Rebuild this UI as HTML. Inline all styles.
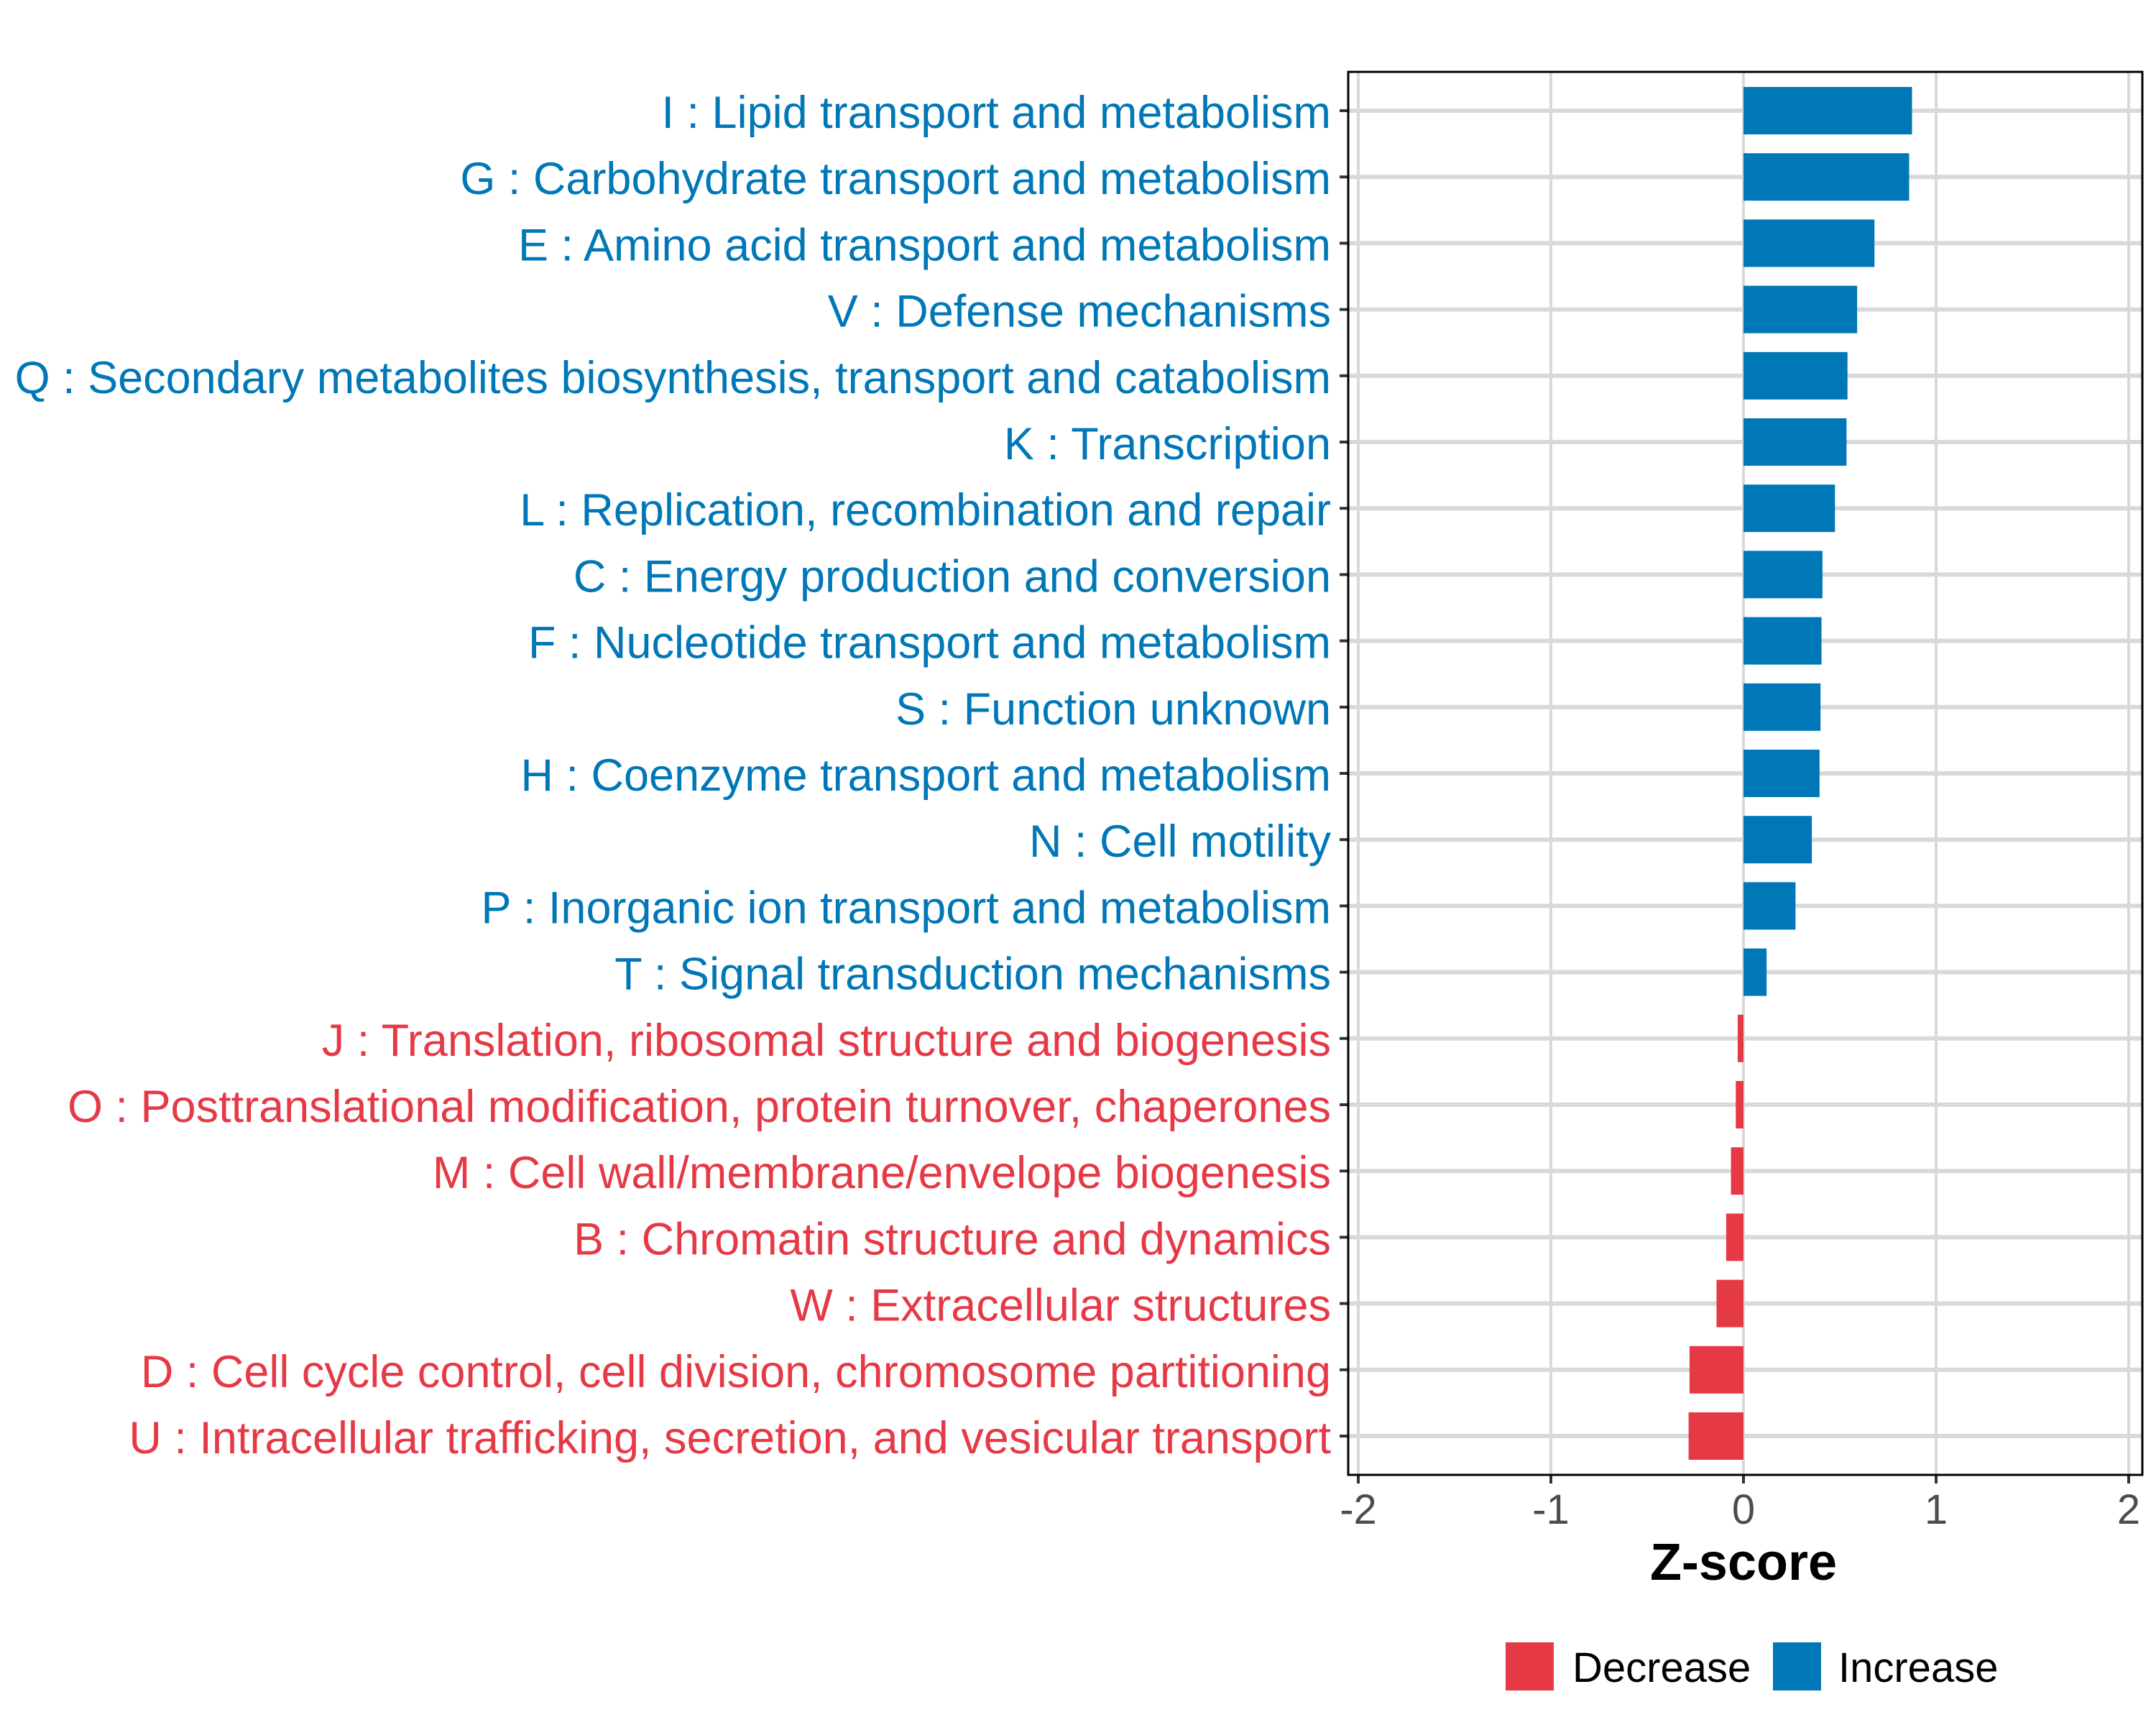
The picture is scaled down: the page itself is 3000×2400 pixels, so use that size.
<!DOCTYPE html>
<html><head><meta charset="utf-8"><style>
html,body{margin:0;padding:0;background:#fff;}
svg{display:block;font-family:"Liberation Sans",Arial,sans-serif;}
</style></head><body>
<svg id="chart" width="3000" height="2400" viewBox="0 0 3000 2400" xmlns="http://www.w3.org/2000/svg">
<rect width="3000" height="2400" fill="#fff"/>
<g id="grid"></g>
<g id="bars"></g>
<g id="ylabels"></g>
<g id="xaxis"></g>
<rect x="1876" y="100" width="1105" height="1952" fill="none" stroke="#000" stroke-width="3"/>
<text x="2426" y="2198" text-anchor="middle" font-size="72" font-weight="bold" fill="#000">Z-score</text>
<g>
<rect x="2095" y="2285" width="67" height="67" fill="#E63946"/>
<text x="2188" y="2340" font-size="58" fill="#000">Decrease</text>
<rect x="2467" y="2285" width="67" height="67" fill="#0077B6"/>
<text x="2558" y="2340" font-size="58" fill="#000">Increase</text>
</g>
</svg>
<script>
const categories = [
"I : Lipid transport and metabolism",
"G : Carbohydrate transport and metabolism",
"E : Amino acid transport and metabolism",
"V : Defense mechanisms",
"Q : Secondary metabolites biosynthesis, transport and catabolism",
"K : Transcription",
"L : Replication, recombination and repair",
"C : Energy production and conversion",
"F : Nucleotide transport and metabolism",
"S : Function unknown",
"H : Coenzyme transport and metabolism",
"N : Cell motility",
"P : Inorganic ion transport and metabolism",
"T : Signal transduction mechanisms",
"J : Translation, ribosomal structure and biogenesis",
"O : Posttranslational modification, protein turnover, chaperones",
"M : Cell wall/membrane/envelope biogenesis",
"B : Chromatin structure and dynamics",
"W : Extracellular structures",
"D : Cell cycle control, cell division, chromosome partitioning",
"U : Intracellular trafficking, secretion, and vesicular transport"
];
const zscores = [0.875,0.86,0.68,0.59,0.54,0.535,0.475,0.41,0.405,0.40,0.395,0.355,0.27,0.12,-0.03,-0.04,-0.065,-0.09,-0.14,-0.28,-0.285];
const xTicks = [-2,-1,0,1,2];
const xTickLabels = ["-2","-1","0","1","2"];

const NS="http://www.w3.org/2000/svg";
const X0=2426, UNIT=268, Y0=154, STEP=92.2, BARH=66;
const PL=1876, PR=2981, PT=100, PB=2052;
function xs(v){return X0+v*UNIT;}
function ys(i){return Y0+i*STEP;}
function mk(tag,attrs,parent){const e=document.createElementNS(NS,tag);for(const k in attrs)e.setAttribute(k,attrs[k]);parent.appendChild(e);return e;}
const grid=document.getElementById('grid'),bars=document.getElementById('bars'),yl=document.getElementById('ylabels'),xa=document.getElementById('xaxis');

xTicks.forEach((t,i)=>{
  const g=mk('line',{x1:xs(t),x2:xs(t),y1:PT,y2:PB,stroke:'#d9d9d9','stroke-width':4},grid);
  
  
  const tk=mk('line',{x1:xs(t),x2:xs(t),y1:PB,y2:PB+12,stroke:'#333','stroke-width':4},xa);
  
  
  const tl=mk('text',{x:xs(t),y:2120,'text-anchor':'middle','font-size':58,fill:'#4d4d4d'},xa);
  tl.textContent=xTickLabels[i];
  
  
});
categories.forEach((c,i)=>{
  const y=ys(i);
  const g=mk('line',{x1:PL,x2:PR,y1:y,y2:y,stroke:'#d9d9d9','stroke-width':6},grid);
  
  
  const v=zscores[i];
  const col=v>=0?'#0077B6':'#E63946';
  const b=mk('rect',{x:Math.min(xs(0),xs(v)),y:y-BARH/2,width:Math.abs(xs(v)-xs(0)),height:BARH,fill:col},bars);
  
  
  const tk=mk('line',{x1:PL-12,x2:PL,y1:y,y2:y,stroke:'#333','stroke-width':4},yl);
  
  
  const t=mk('text',{x:1852,y:y+24,'text-anchor':'end','font-size':63,fill:col},yl);
  t.textContent=c;
  
  
});
</script>
</body></html>
